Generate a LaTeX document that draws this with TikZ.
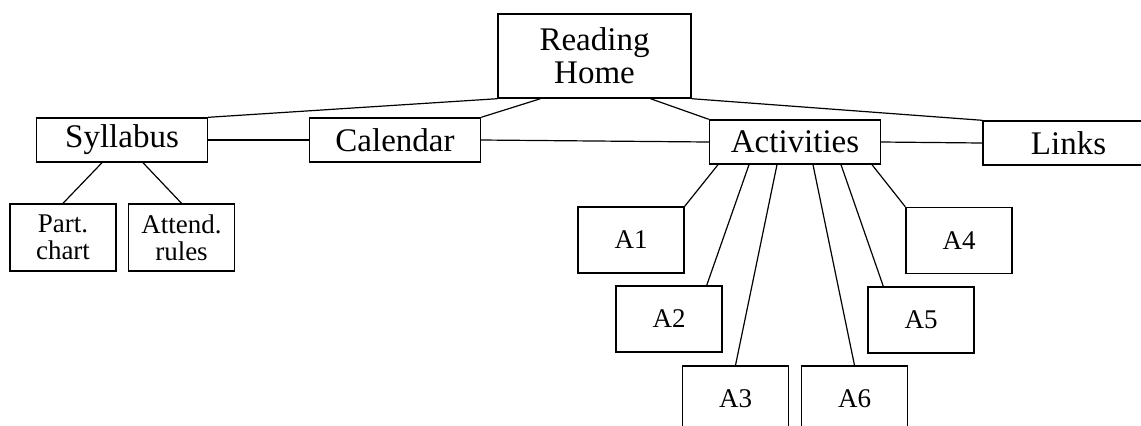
\documentclass[tikz,border=0pt]{standalone}
\usepackage{fontspec}
\setmainfont{Liberation Serif}
\begin{document}
\begin{tikzpicture}[x=0.5pt,y=-0.5pt,
  bigbox/.style={draw,line width=.7pt,minimum width=85.5pt,minimum height=22pt,inner sep=0pt,font=\fontsize{16.5}{16.5}\selectfont},
  smallbox/.style={draw,line width=.7pt,minimum width=53pt,minimum height=33pt,inner sep=0pt,align=center,font=\fontsize{13.5}{13.5}\selectfont}]
\useasboundingbox (0,0) rectangle (1141,425);
\node[bigbox,minimum width=96.5pt,minimum height=42pt,align=center] (home) at (594.5,56) {Reading\\Home};
\node[bigbox] (syllabus) at (122,140) {Syllabus};
\node[bigbox] (calendar) at (395,140) {Calendar};
\node[bigbox] (activities) at (795,142) {Activities};
\node[bigbox] (links) at (1068.5,143) {Links};
\node[smallbox,minimum height=33.5pt] (partchart) at (63,237.5) {Part.\\chart};
\node[smallbox,minimum height=33.5pt] (attend) at (181.5,237.5) {Attend.\\rules};
\node[smallbox] (a1) at (631,240) {A1};
\node[smallbox] (a2) at (669,319) {A2};
\node[smallbox] (a3) at (735.5,399) {A3};
\node[smallbox] (a4) at (959,240.5) {A4};
\node[smallbox] (a5) at (921,320) {A5};
\node[smallbox] (a6) at (854.5,399) {A6};
\draw[line width=.6pt] (syllabus.north east) -- (home.south west);
\draw[line width=.6pt] (calendar.north east) -- ([xshift=-27pt]home.south);
\draw[line width=.6pt] (activities.north west) -- ([xshift=28pt]home.south);
\draw[line width=.6pt] (links.north west) -- (home.south east);
\draw[line width=.6pt] (syllabus.east) -- (calendar.west);
\draw[line width=.6pt] (calendar.east) -- (activities.west);
\draw[line width=.6pt] (activities.east) -- (links.west);
\draw[line width=.6pt] (partchart.north) -- ([xshift=-10pt]syllabus.south);
\draw[line width=.6pt] (attend.north) -- ([xshift=10.5pt]syllabus.south);
\draw[line width=.6pt] (a1.north east) -- ([xshift=-38.5pt]activities.south);
\draw[line width=.6pt] ([xshift=-8pt]a2.north east) -- ([xshift=-23pt]activities.south);
\draw[line width=.6pt] (a3.north) -- ([xshift=-9pt]activities.south);
\draw[line width=.6pt] (a6.north) -- ([xshift=9pt]activities.south);
\draw[line width=.6pt] ([xshift=8pt]a5.north west) -- ([xshift=23pt]activities.south);
\draw[line width=.6pt] (a4.north west) -- ([xshift=38.5pt]activities.south);
\end{tikzpicture}
\end{document}
